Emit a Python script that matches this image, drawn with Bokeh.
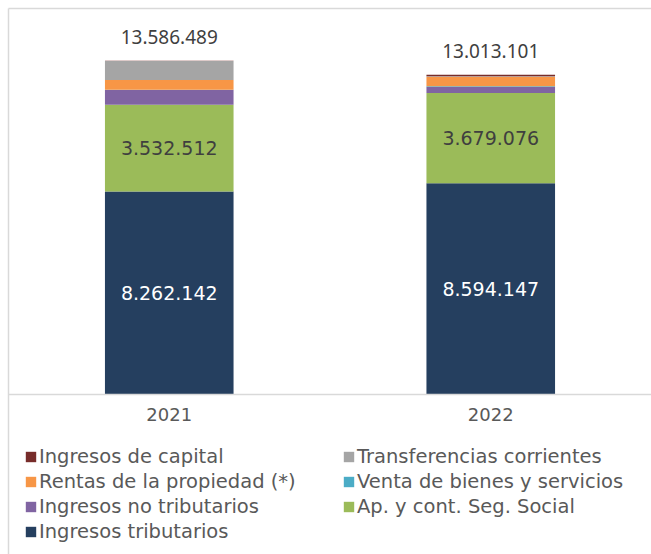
from bokeh.plotting import figure
from bokeh.models import (ColumnDataSource, Legend, LegendItem, LabelSet, Range1d, FactorRange, Span,
                          CategoricalAxis)
from bokeh.core.properties import value
from bokeh.embed import file_html
from bokeh.resources import INLINE

categories = ["2021", "2022"]
tributarios = [8262142, 8594147]
seg_social = [3532512, 3679076]
no_tributarios = [600000, 245000]
venta = [6000, 30000]
rentas = [400000, 380000]
transferencias = [770835, 20000]
capital = [15000, 64878]

stack_keys = ["tributarios", "seg_social", "no_tributarios", "venta", "rentas", "transferencias", "capital"]
stack_names = ["Ingresos tributarios", "Ap. y cont. Seg. Social", "Ingresos no tributarios",
               "Venta de bienes y servicios", "Rentas de la propiedad (*)",
               "Transferencias corrientes", "Ingresos de capital"]
stack_colors = ["#253F5F", "#9BBB59", "#8064A2", "#4BACC6", "#F79646", "#A5A5A5", "#772C2A"]

totals = [sum(v) for v in zip(tributarios, seg_social, no_tributarios, venta, rentas, transferencias, capital)]

def fmt(v):
    return f"{v:,}".replace(",", ".")

src = ColumnDataSource(dict(
    cat=categories, tributarios=tributarios, seg_social=seg_social, no_tributarios=no_tributarios,
    venta=venta, rentas=rentas, transferencias=transferencias, capital=capital,
    total=totals, total_txt=[fmt(t) for t in totals],
    trib_mid=[t / 2 for t in tributarios], trib_txt=[fmt(t) for t in tributarios],
    ss_mid=[t + s / 2 for t, s in zip(tributarios, seg_social)], ss_txt=[fmt(s) for s in seg_social],
    base=[0, 0],
))

FONT = "DejaVu Sans"
BORDER = "#D9D9D9"

# frame covers the figure below the 8px border; the area below zero holds the category labels and the legend
p = figure(x_range=FactorRange(*categories, range_padding=0), y_range=Range1d(-6.51e6, 15.71e6),
           frame_width=643, frame_height=546, output_backend="svg", toolbar_location=None,
           min_border_left=8, min_border_right=0, min_border_top=8, min_border_bottom=0)

rs = p.vbar_stack(stack_keys, x="cat", width=0.4, color=stack_colors, source=src, line_color=None)

p.xaxis.visible = False
p.xgrid.visible = False
p.ygrid.visible = False
p.outline_line_color = None

# left border line: y axis reduced to its line
p.yaxis.ticker = []
p.yaxis.axis_line_color = BORDER
p.yaxis.axis_line_width = 1.5
p.yaxis.major_tick_out = 0
p.yaxis.major_tick_in = 0
p.yaxis.major_label_standoff = 0
p.yaxis.major_label_text_font_size = "0px"

# top border line: an axis above reduced to its line
top_axis = CategoricalAxis(axis_line_color=BORDER, axis_line_width=1.5, major_tick_line_color=None,
                           minor_tick_line_color=None, major_label_text_font_size="0px",
                           major_label_standoff=0, major_tick_out=0, major_tick_in=0)
p.add_layout(top_axis, "above")

p.add_layout(Span(location=0, dimension="width", line_color=BORDER, line_width=1.5))

p.add_layout(LabelSet(x="cat", y="base", text="cat", source=src, text_align="center",
                      text_baseline="middle", y_offset=-20, text_color="#595959",
                      text_font=value(FONT), text_font_size="18px"))
p.add_layout(LabelSet(x="cat", y="trib_mid", text="trib_txt", source=src, text_align="center",
                      text_baseline="middle", text_color="white", text_font=value(FONT),
                      text_font_size="19px"))
p.add_layout(LabelSet(x="cat", y="ss_mid", text="ss_txt", source=src, text_align="center",
                      text_baseline="middle", text_color="#3F3F3F", text_font=value(FONT),
                      text_font_size="19px"))
p.add_layout(LabelSet(x="cat", y="total", text="total_txt", source=src, text_align="center",
                      text_baseline="middle", y_offset=24, text_color="#3F3F3F",
                      text_font=value("Noto Sans"), text_font_size="19px"))

order = [6, 4, 2, 0, 5, 3, 1]
items = [LegendItem(label=stack_names[i], renderers=[rs[i]]) for i in order]
legend = Legend(items=items, orientation="vertical", nrows=4, location=(16, 11),
                label_text_font=FONT, label_text_font_size="19.5px", label_text_color="#595959",
                glyph_width=13, glyph_height=13, label_standoff=2, spacing=2, label_width=301,
                border_line_color=None, background_fill_alpha=0, padding=4, margin=0)
p.add_layout(legend)

open("out.html", "w").write(file_html(p, INLINE))
